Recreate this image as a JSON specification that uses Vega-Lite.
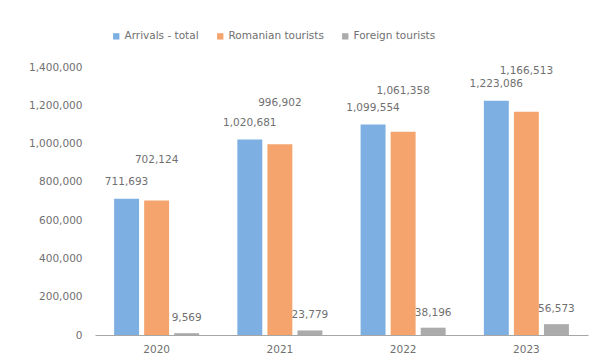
{
  "$schema": "https://vega.github.io/schema/vega-lite/v6.json",
  "autosize": "none",
  "width": 493,
  "height": 268,
  "padding": {"left": 95, "top": 67, "right": 6, "bottom": 29},
  "background": "white",
  "config": {
    "font": "DejaVu Sans",
    "view": {"stroke": null},
    "axis": {"labelColor": "#707070", "labelFontSize": 10.5, "labelFont": "DejaVu Sans"},
    "legend": {"labelColor": "#707070", "labelFontSize": 10.5, "labelFont": "DejaVu Sans"}
  },
  "data": {
    "values": [
      {"year": "2020", "series": "Arrivals - total", "value": 711693},
      {"year": "2020", "series": "Romanian tourists", "value": 702124},
      {"year": "2020", "series": "Foreign tourists", "value": 9569},
      {"year": "2021", "series": "Arrivals - total", "value": 1020681},
      {"year": "2021", "series": "Romanian tourists", "value": 996902},
      {"year": "2021", "series": "Foreign tourists", "value": 23779},
      {"year": "2022", "series": "Arrivals - total", "value": 1099554},
      {"year": "2022", "series": "Romanian tourists", "value": 1061358},
      {"year": "2022", "series": "Foreign tourists", "value": 38196},
      {"year": "2023", "series": "Arrivals - total", "value": 1223086},
      {"year": "2023", "series": "Romanian tourists", "value": 1166513},
      {"year": "2023", "series": "Foreign tourists", "value": 56573}
    ]
  },
  "encoding": {
    "x": {
      "field": "year", "type": "nominal",
      "scale": {"paddingInner": 0.31, "paddingOuter": 0.155},
      "axis": {"title": null, "labelAngle": 0, "domainColor": "#A6A6A6", "domainWidth": 1, "ticks": false, "labelPadding": 9}
    },
    "xOffset": {
      "field": "series", "type": "nominal",
      "sort": ["Arrivals - total", "Romanian tourists", "Foreign tourists"],
      "scale": {"paddingInner": 0.17, "paddingOuter": 0}
    },
    "y": {
      "field": "value", "type": "quantitative",
      "scale": {"domain": [0, 1400000], "nice": false},
      "axis": {"title": null, "format": ",d", "values": [0, 200000, 400000, 600000, 800000, 1000000, 1200000, 1400000], "labelOverlap": false, "grid": false, "domain": false, "ticks": false, "labelPadding": 13}
    }
  },
  "layer": [
    {
      "mark": {"type": "bar"},
      "encoding": {
        "color": {
          "field": "series", "type": "nominal",
          "sort": ["Arrivals - total", "Romanian tourists", "Foreign tourists"],
          "scale": {"domain": ["Arrivals - total", "Romanian tourists", "Foreign tourists"], "range": ["#7DAFE2", "#F4A46C", "#ABABAB"]},
          "legend": {
            "title": null, "orient": "none", "direction": "horizontal",
            "legendX": 16, "legendY": -36,
            "symbolType": "square", "symbolSize": 40, "columnPadding": 16, "labelOffset": 3
          }
        }
      }
    },
    {
      "transform": [{"filter": "datum.series === 'Arrivals - total'"}],
      "mark": {"type": "text", "dy": -12, "color": "#707070", "fontSize": 10.5, "baseline": "bottom"},
      "encoding": {"text": {"field": "value", "type": "quantitative", "format": ",d"}}
    },
    {
      "transform": [{"filter": "datum.series === 'Romanian tourists'"}],
      "mark": {"type": "text", "dy": -36, "color": "#707070", "fontSize": 10.5, "baseline": "bottom"},
      "encoding": {"text": {"field": "value", "type": "quantitative", "format": ",d"}}
    },
    {
      "transform": [{"filter": "datum.series === 'Foreign tourists'"}],
      "mark": {"type": "text", "dy": -10, "color": "#707070", "fontSize": 10.5, "baseline": "bottom"},
      "encoding": {"text": {"field": "value", "type": "quantitative", "format": ",d"}}
    }
  ]
}
